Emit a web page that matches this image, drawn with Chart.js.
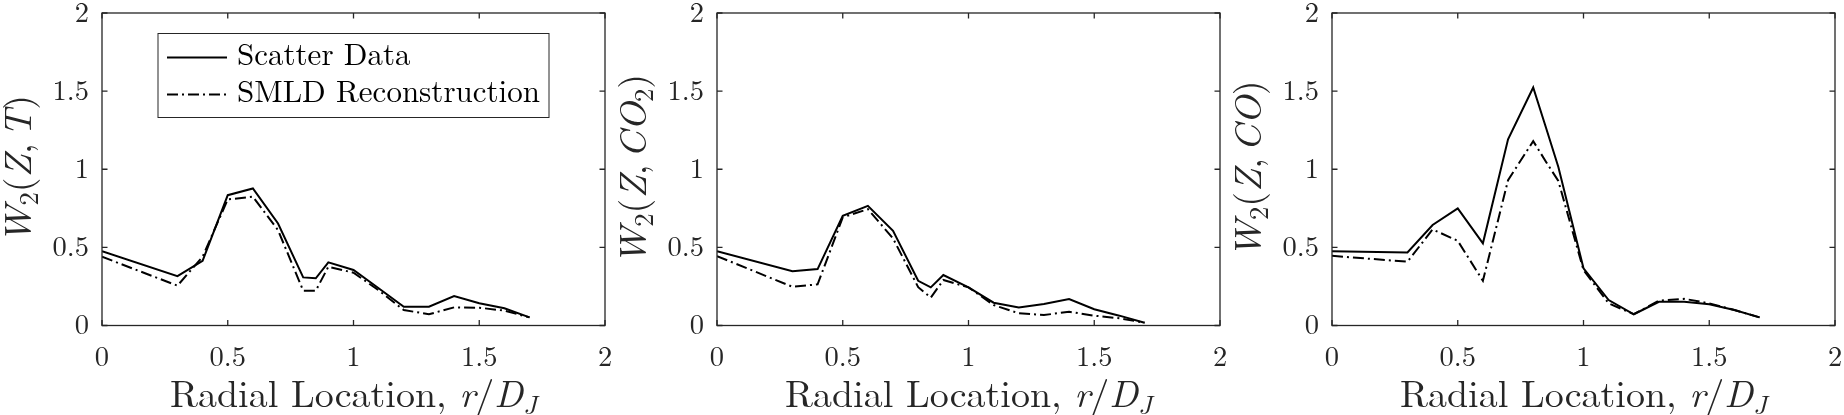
<!DOCTYPE html>
<html><head><meta charset="utf-8">
<script src="https://cdn.jsdelivr.net/npm/chart.js@4/dist/chart.umd.min.js"></script>
<style>
html,body{margin:0;padding:0;background:#fff;width:1844px;height:415px;overflow:hidden;}
.panel{position:absolute;top:0;width:615px;height:415px;}
canvas{display:block;}
</style></head><body>
<div class="panel" style="left:0px"><canvas id="c0" width="615" height="415"></canvas></div>
<div class="panel" style="left:615px"><canvas id="c1" width="615" height="415"></canvas></div>
<div class="panel" style="left:1230px"><canvas id="c2" width="615" height="415"></canvas></div>
<script>
// ---- data ----
const radialLocation = [0, 0.3, 0.4, 0.5, 0.6, 0.7, 0.8, 0.85, 0.9, 1.0, 1.1, 1.2, 1.3, 1.4, 1.5, 1.6, 1.7];

const scatterT   = [0.475, 0.316, 0.414, 0.834, 0.877, 0.653, 0.308, 0.302, 0.404, 0.355, 0.238, 0.120, 0.120, 0.189, 0.142, 0.110, 0.052];
const smldT      = [0.440, 0.255, 0.440, 0.807, 0.824, 0.610, 0.223, 0.223, 0.376, 0.338, 0.225, 0.099, 0.072, 0.116, 0.114, 0.095, 0.052];

const scatterCO2 = [0.476, 0.348, 0.361, 0.702, 0.766, 0.606, 0.286, 0.244, 0.323, 0.244, 0.146, 0.116, 0.137, 0.169, 0.104, 0.063, 0.018];
const smldCO2    = [0.444, 0.248, 0.263, 0.692, 0.745, 0.557, 0.245, 0.178, 0.291, 0.244, 0.131, 0.078, 0.067, 0.088, 0.063, 0.046, 0.018];

const scatterCO  = [0.476, 0.468, 0.643, 0.749, 0.526, 1.192, 1.523, 1.270, 1.015, 0.366, 0.163, 0.072, 0.152, 0.152, 0.136, 0.099, 0.052];
const smldCO     = [0.446, 0.408, 0.615, 0.542, 0.286, 0.930, 1.180, 1.050, 0.925, 0.355, 0.142, 0.072, 0.159, 0.171, 0.142, 0.099, 0.052];

const xTicks = [0, 0.5, 1, 1.5, 2];
const yTicks = [0, 0.5, 1, 1.5, 2];
const seriesNames = ['Scatter Data', 'SMLD Reconstruction'];

// rich-text titles: segments {t: text, i: italic, s: subscript, g: extra gap in em}
const xTitle = [{t:'Radial Location, '}, {t:'r', i:true}, {t:'/'}, {t:'D', i:true}, {t:'J', i:true, s:true}];
const yTitleT   = [{t:'W', i:true}, {t:'2', s:true}, {t:'('}, {t:'Z', i:true}, {t:','}, {t:'', g:0.17}, {t:'T', i:true}, {t:')'}];
const yTitleCO2 = [{t:'W', i:true}, {t:'2', s:true}, {t:'('}, {t:'Z', i:true}, {t:','}, {t:'', g:0.17}, {t:'C', i:true}, {t:'O', i:true}, {t:'2', s:true}, {t:')'}];
const yTitleCO  = [{t:'W', i:true}, {t:'2', s:true}, {t:'('}, {t:'Z', i:true}, {t:','}, {t:'', g:0.17}, {t:'C', i:true}, {t:'O', i:true}, {t:')'}];

// ---- styling ----
const FAMILY = '"Latin Modern Roman", "Liberation Serif", serif';
const INK = '#262626';
const DASHDOT = [11, 4, 2, 4];

function segFont(seg, size) {
  const sz = seg.s ? size * 0.7 : size;
  return (seg.i ? 'italic ' : 'normal ') + sz + 'px ' + FAMILY;
}
function richWidth(ctx, segs, size) {
  let w = 0;
  for (const seg of segs) {
    ctx.font = segFont(seg, size);
    w += ctx.measureText(seg.t).width + (seg.g || 0) * size;
  }
  return w;
}
function drawRich(ctx, segs, size, x0, y0) {
  let x = x0;
  for (const seg of segs) {
    ctx.font = segFont(seg, size);
    const dy = seg.s ? size * 0.18 : 0;
    if (seg.t) ctx.fillText(seg.t, x, y0 + dy);
    x += ctx.measureText(seg.t).width + (seg.g || 0) * size;
  }
}

const titlesPlugin = {
  id: 'richTitles',
  afterDraw(chart, args, opts) {
    const ctx = chart.ctx, a = chart.chartArea;
    ctx.save();
    ctx.fillStyle = INK;
    ctx.textBaseline = 'alphabetic';
    ctx.textAlign = 'left';
    // x title
    const xs = 38;
    const xw = richWidth(ctx, xTitle, xs);
    drawRich(ctx, xTitle, xs, (a.left + a.right) / 2 - xw / 2, 407);
    // y title (rotated)
    const ys = 38;
    const yw = richWidth(ctx, opts.yTitle, ys);
    ctx.translate(31, (a.top + a.bottom) / 2 + yw / 2);
    ctx.rotate(-Math.PI / 2);
    drawRich(ctx, opts.yTitle, ys, 0, 0);
    ctx.restore();
  }
};

const framePlugin = {
  id: 'frameBox',
  afterDraw(chart) {
    const ctx = chart.ctx, a = chart.chartArea, xs = chart.scales.x, ys = chart.scales.y;
    ctx.save();
    ctx.strokeStyle = INK;
    ctx.lineWidth = 1.3;
    ctx.strokeRect(a.left, a.top, a.right - a.left, a.bottom - a.top);
    const L = 5.5;
    ctx.beginPath();
    xs.ticks.forEach(t => {
      const p = xs.getPixelForValue(t.value);
      ctx.moveTo(p, a.bottom); ctx.lineTo(p, a.bottom - L);
      ctx.moveTo(p, a.top); ctx.lineTo(p, a.top + L);
    });
    ys.ticks.forEach(t => {
      const p = ys.getPixelForValue(t.value);
      ctx.moveTo(a.left, p); ctx.lineTo(a.left + L, p);
      ctx.moveTo(a.right, p); ctx.lineTo(a.right - L, p);
    });
    ctx.stroke();
    ctx.restore();
  }
};

const legendPlugin = {
  id: 'boxLegend',
  afterDraw(chart, args, opts) {
    if (!opts.show) return;
    const ctx = chart.ctx, a = chart.chartArea;
    const bx = a.left + 56, by = a.top + 20.5, bw = 391, bh = 84;
    ctx.save();
    ctx.fillStyle = '#fff';
    ctx.fillRect(bx, by, bw, bh);
    ctx.strokeStyle = INK;
    ctx.lineWidth = 1;
    ctx.strokeRect(bx, by, bw, bh);
    const rows = [by + 24, by + 61];
    chart.data.datasets.forEach((ds, i) => {
      const yy = rows[i];
      ctx.strokeStyle = ds.borderColor;
      ctx.lineWidth = ds.borderWidth;
      ctx.setLineDash(ds.borderDash || []);
      ctx.beginPath();
      ctx.moveTo(bx + 9, yy); ctx.lineTo(bx + 69, yy);
      ctx.stroke();
      ctx.setLineDash([]);
      ctx.fillStyle = '#000';
      ctx.font = 'normal 31px ' + FAMILY;
      ctx.textBaseline = 'alphabetic';
      ctx.textAlign = 'left';
      ctx.fillText(ds.label, bx + 79, yy + 7);
    });
    ctx.restore();
  }
};

function pts(ys) { return radialLocation.map((x, k) => ({x: x, y: ys[k]})); }

function makeChart(id, scatter, smld, yTitle, showLegend) {
  const tickFont = {family: FAMILY, size: 28.5, lineHeight: 1.2};
  return new Chart(document.getElementById(id), {
    type: 'line',
    data: {
      datasets: [
        {label: seriesNames[0], data: pts(scatter), borderColor: '#000', borderWidth: 2, pointRadius: 0, tension: 0, fill: false},
        {label: seriesNames[1], data: pts(smld), borderColor: '#000', borderWidth: 2, borderDash: DASHDOT, pointRadius: 0, tension: 0, fill: false}
      ]
    },
    options: {
      responsive: false, animation: false, devicePixelRatio: 1,
      layout: {padding: {top: 13, right: 10, bottom: 0, left: 0}},
      plugins: {
        legend: {display: false}, tooltip: {enabled: false},
        richTitles: {yTitle: yTitle},
        boxLegend: {show: showLegend}
      },
      scales: {
        x: {
          type: 'linear', min: 0, max: 2,
          afterBuildTicks: s => { s.ticks = xTicks.map(v => ({value: v})); },
          ticks: {callback: v => String(v), font: tickFont, color: INK, padding: 15, maxRotation: 0, autoSkip: false},
          grid: {display: false, drawTicks: false}, border: {display: false},
          afterFit: s => { s.height = 89.5; s.paddingLeft = 0; s.paddingRight = 0; }
        },
        y: {
          type: 'linear', min: 0, max: 2,
          afterBuildTicks: s => { s.ticks = yTicks.map(v => ({value: v})); },
          ticks: {callback: v => String(v), font: tickFont, color: INK, padding: 13, autoSkip: false},
          grid: {display: false, drawTicks: false}, border: {display: false},
          afterFit: s => { s.width = 102; s.paddingTop = 0; s.paddingBottom = 0; }
        }
      }
    },
    plugins: [framePlugin, titlesPlugin, legendPlugin]
  });
}

function build() {
  makeChart('c0', scatterT, smldT, yTitleT, true);
  makeChart('c1', scatterCO2, smldCO2, yTitleCO2, false);
  makeChart('c2', scatterCO, smldCO, yTitleCO, false);
}
Promise.all([
  document.fonts.load('normal 32px "Latin Modern Roman"'),
  document.fonts.load('italic 32px "Latin Modern Roman"')
]).then(build, build);
</script>
</body></html>
